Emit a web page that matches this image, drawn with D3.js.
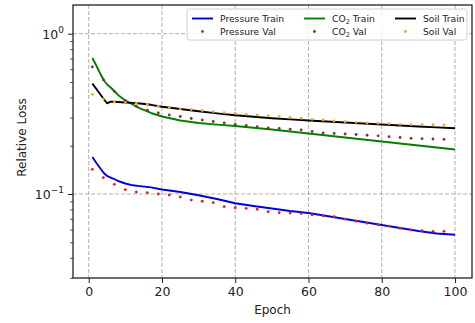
<!DOCTYPE html>
<html>
<head>
<meta charset="utf-8">
<script src="https://cdn.jsdelivr.net/npm/d3@7"></script>
<style>
  body { margin: 0; background: #fff; }
  svg { font-family: "DejaVu Sans", sans-serif; }
</style>
</head>
<body>
<svg width="475" height="323"></svg>
<script>
// training curves, sampled at the epochs where the line was read
var trainEpochs = [1, 2, 3, 4, 5, 6, 7, 8, 10, 12, 14, 17, 20, 25, 30, 35, 40, 45, 50, 55, 60, 65, 70, 75, 80, 85, 90, 95, 100];
var pressureTrain = [0.1701, 0.1573, 0.1464, 0.1362, 0.1295, 0.1267, 0.1240, 0.1205, 0.1163, 0.1133, 0.1120, 0.1100, 0.1067, 0.1029, 0.0982, 0.0931, 0.0875, 0.0841, 0.0812, 0.0783, 0.0761, 0.0729, 0.0698, 0.0669, 0.0641, 0.0614, 0.0588, 0.0567, 0.0557];
var co2Train = [0.7054, 0.6377, 0.5728, 0.5179, 0.4821, 0.4618, 0.4390, 0.4147, 0.3831, 0.3617, 0.3424, 0.3201, 0.3044, 0.2874, 0.2773, 0.2710, 0.2656, 0.2590, 0.2525, 0.2455, 0.2384, 0.2318, 0.2251, 0.2188, 0.2126, 0.2066, 0.2007, 0.1950, 0.1895];
var soilTrain = [0.4877, 0.4550, 0.4236, 0.3943, 0.3680, 0.3766, 0.3760, 0.3749, 0.3722, 0.3700, 0.3670, 0.3600, 0.3504, 0.3390, 0.3281, 0.3185, 0.3097, 0.3030, 0.2966, 0.2920, 0.2874, 0.2833, 0.2793, 0.2753, 0.2714, 0.2675, 0.2637, 0.2603, 0.2570];

// validation, every 3rd epoch
var valEpochs = [1, 4, 7, 10, 13, 16, 19, 22, 25, 28, 31, 34, 37, 40, 43, 46, 49, 52, 55, 58, 61, 64, 67, 70, 73, 76, 79, 82, 85, 88, 91, 94, 97];
var pressureVal = [0.1426, 0.1264, 0.1149, 0.1064, 0.1029, 0.1019, 0.1000, 0.0986, 0.0958, 0.0917, 0.0901, 0.0883, 0.0833, 0.0821, 0.0814, 0.0803, 0.0775, 0.0764, 0.0761, 0.0755, 0.0740, 0.0730, 0.0721, 0.0698, 0.0677, 0.0658, 0.0644, 0.0630, 0.0611, 0.0596, 0.0590, 0.0585, 0.0585];
var co2Val = [0.620, 0.516, 0.437, 0.383, 0.352, 0.333, 0.3200, 0.3110, 0.3044, 0.2958, 0.2894, 0.2833, 0.2773, 0.2714, 0.2675, 0.2629, 0.2580, 0.2562, 0.2536, 0.2507, 0.2454, 0.2401, 0.2384, 0.2367, 0.2350, 0.2326, 0.2307, 0.2277, 0.2251, 0.2225, 0.2213, 0.2203, 0.2194];
var soilVal = [0.4188, 0.392, 0.376, 0.372, 0.368, 0.363, 0.353, 0.346, 0.340, 0.3366, 0.3318, 0.3261, 0.3215, 0.3187, 0.3142, 0.3110, 0.3066, 0.3035, 0.3009, 0.2966, 0.2924, 0.2894, 0.2853, 0.2825, 0.2801, 0.2773, 0.2761, 0.2746, 0.2722, 0.2706, 0.2706, 0.2706, 0.2694];

var xTicks = [0, 20, 40, 60, 80, 100];
var yMajor = [1, 0.1];
var yMajorExp = ["0", "\u22121"];
var yMinor = [0.03, 0.04, 0.05, 0.06, 0.07, 0.08, 0.09, 0.2, 0.3, 0.4, 0.5, 0.6, 0.7, 0.8, 0.9];

var svg = d3.select("svg"),
    width = +svg.attr("width"),
    height = +svg.attr("height");

var plot = {left: 73, right: 472, top: 5, bottom: 278};

var x = d3.scaleLinear().domain([-4.29, 104.64]).range([plot.left, plot.right]);
var y = d3.scaleLog().domain([0.02992, 1.51]).range([plot.bottom, plot.top]);

// grid
var grid = svg.append("g")
    .attr("stroke", "#b0b0b0")
    .attr("stroke-width", 1)
    .attr("stroke-dasharray", "4,2");
grid.selectAll(".gx").data(xTicks).enter().append("line")
    .attr("x1", function(d) { return x(d); }).attr("x2", function(d) { return x(d); })
    .attr("y1", plot.top).attr("y2", plot.bottom);
grid.selectAll(".gy").data(yMajor).enter().append("line")
    .attr("y1", function(d) { return y(d); }).attr("y2", function(d) { return y(d); })
    .attr("x1", plot.left).attr("x2", plot.right);

var line = d3.line()
    .x(function(d) { return x(d[0]); })
    .y(function(d) { return y(d[1]); });

var trainSeries = [
    {vals: pressureTrain, color: "#0000dd"},
    {vals: co2Train, color: "#008000"},
    {vals: soilTrain, color: "#000000"}
];
var valSeries = [
    {vals: pressureVal, color: "#e02020"},
    {vals: co2Val, color: "#8b2e2e"},
    {vals: soilVal, color: "#f5a623"}
];

svg.append("clipPath").attr("id", "plotclip")
    .append("rect")
    .attr("x", plot.left).attr("y", plot.top)
    .attr("width", plot.right - plot.left).attr("height", plot.bottom - plot.top);

var marks = svg.append("g").attr("clip-path", "url(#plotclip)");

trainSeries.forEach(function(s) {
    marks.append("path")
        .datum(trainEpochs.map(function(e, i) { return [e, s.vals[i]]; }))
        .attr("fill", "none")
        .attr("stroke", s.color)
        .attr("stroke-width", 1.9)
        .attr("stroke-linejoin", "round")
        .attr("d", line);
});

valSeries.forEach(function(s) {
    marks.selectAll(null)
        .data(valEpochs.map(function(e, i) { return [e, s.vals[i]]; }))
        .enter().append("circle")
        .attr("cx", function(d) { return x(d[0]); })
        .attr("cy", function(d) { return y(d[1]); })
        .attr("r", 1.4)
        .attr("fill", s.color);
});

// axes
var xAxis = d3.axisBottom(x).tickValues(xTicks).tickSize(5).tickPadding(4);
var gx = svg.append("g").attr("transform", "translate(0," + plot.bottom + ")").call(xAxis);
gx.select(".domain").remove();
gx.selectAll("text").attr("font-size", 12.5).attr("fill", "#222").attr("font-family", "DejaVu Sans");
gx.selectAll("line").attr("stroke", "#222").attr("stroke-width", 1);

var gyMinor = svg.append("g").attr("transform", "translate(" + plot.left + ",0)")
    .call(d3.axisLeft(y).tickValues(yMinor).tickSize(3).tickFormat(""));
gyMinor.select(".domain").remove();
gyMinor.selectAll("line").attr("stroke", "#222").attr("stroke-width", 0.8);

var gyMajor = svg.append("g").attr("transform", "translate(" + plot.left + ",0)")
    .call(d3.axisLeft(y).tickValues(yMajor).tickSize(5).tickFormat(""));
gyMajor.select(".domain").remove();
gyMajor.selectAll("line").attr("stroke", "#222").attr("stroke-width", 1);

var ylab = svg.append("g").selectAll("text").data(yMajor).enter().append("text")
    .attr("x", plot.left - 9)
    .attr("y", function(d) { return y(d) + 5; })
    .attr("text-anchor", "end")
    .attr("font-size", 12.5)
    .attr("fill", "#222");
ylab.append("tspan").text("10");
ylab.append("tspan")
    .attr("dy", -6)
    .attr("font-size", 9)
    .text(function(d, i) { return yMajorExp[i]; });

// frame
svg.append("rect")
    .attr("x", plot.left).attr("y", plot.top)
    .attr("width", plot.right - plot.left).attr("height", plot.bottom - plot.top)
    .attr("fill", "none").attr("stroke", "#222").attr("stroke-width", 1.3);

// axis labels
svg.append("text")
    .attr("x", (plot.left + plot.right) / 2).attr("y", 314)
    .attr("text-anchor", "middle").attr("font-size", 12).attr("fill", "#222")
    .text("Epoch");
svg.append("text")
    .attr("transform", "translate(26," + ((plot.top + plot.bottom) / 2 - 4) + ") rotate(-90)")
    .attr("text-anchor", "middle").attr("font-size", 12).attr("fill", "#222")
    .text("Relative Loss");

// legend
var legend = svg.append("g");
legend.append("rect")
    .attr("x", 187).attr("y", 9).attr("width", 280).attr("height", 31)
    .attr("rx", 2.5)
    .attr("fill", "rgba(255,255,255,0.85)")
    .attr("stroke", "#d0d0d0").attr("stroke-width", 1);

var legendCols = [
    {x: 192, name: "Pressure", train: trainSeries[0], val: valSeries[0]},
    {x: 304, name: "CO", sub: "2", train: trainSeries[1], val: valSeries[1]},
    {x: 395, name: "Soil", train: trainSeries[2], val: valSeries[2]}
];
legendCols.forEach(function(c) {
    legend.append("line")
        .attr("x1", c.x).attr("x2", c.x + 21)
        .attr("y1", 18.5).attr("y2", 18.5)
        .attr("stroke", c.train.color).attr("stroke-width", 1.9);
    legend.append("circle")
        .attr("cx", c.x + 10.5).attr("cy", 31.5).attr("r", 1.4)
        .attr("fill", c.val.color);
    ["Train", "Val"].forEach(function(kind, r) {
        var t = legend.append("text")
            .attr("x", c.x + 28).attr("y", 22 + r * 13)
            .attr("font-size", 9.2).attr("fill", "#222");
        t.append("tspan").text(c.name);
        if (c.sub) {
            t.append("tspan").attr("font-size", 6.5).attr("dy", 2).text(c.sub);
            t.append("tspan").attr("dy", -2).text(" " + kind);
        } else {
            t.append("tspan").text(" " + kind);
        }
    });
});
</script>
</body>
</html>
